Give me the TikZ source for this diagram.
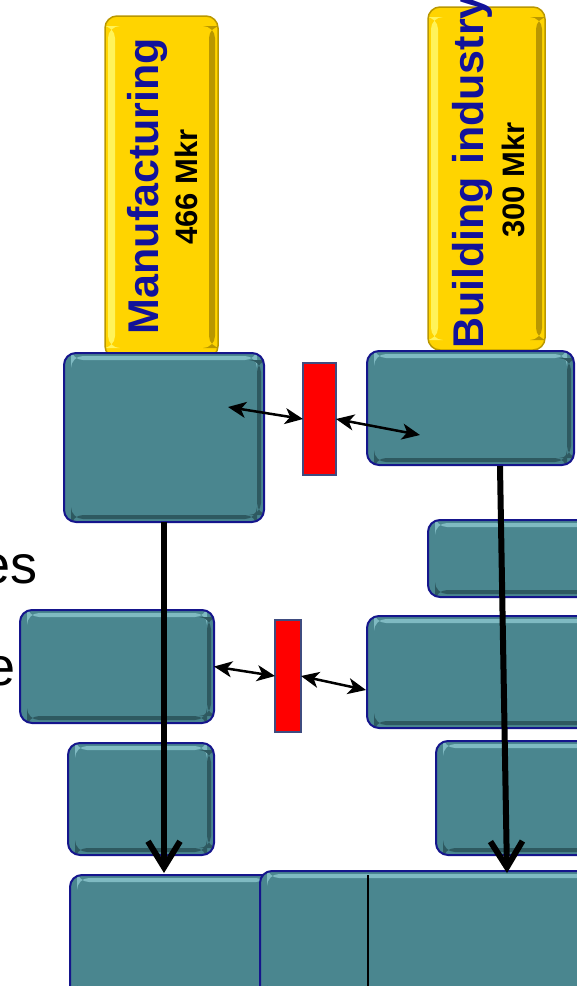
\documentclass[tikz,border=0pt]{standalone}
\usepackage{fontspec}
\setmainfont{Liberation Sans}
\usetikzlibrary{arrows.meta}

\definecolor{boxteal}{HTML}{4A868F}
\definecolor{boxtealhi}{HTML}{7FBAC2}
\definecolor{boxteallo}{HTML}{2E5960}
\definecolor{boxedge}{HTML}{15158C}
\definecolor{gold}{HTML}{FFD400}
\definecolor{goldhi}{HTML}{FFF35A}
\definecolor{goldlo}{HTML}{B99700}
\definecolor{labelblue}{HTML}{12129A}
\definecolor{slate}{HTML}{3F4C80}

\begin{document}
\begin{tikzpicture}[x=1pt,y=-1pt,
    tealbox/.style={draw=boxedge, line width=2pt, fill=boxteal, rounded corners=12pt,
        inner sep=0pt, outer sep=0pt,
        path picture={
            \fill[boxtealhi] ([shift={(7pt,-3pt)}]path picture bounding box.north west)
                rectangle ([shift={(-7pt,-7pt)}]path picture bounding box.north east);
            \fill[boxteallo] ([shift={(7pt,3pt)}]path picture bounding box.south west)
                rectangle ([shift={(-7pt,7pt)}]path picture bounding box.south east);
            \fill[boxteallo] ([shift={(-3pt,-7pt)}]path picture bounding box.north east)
                rectangle ([shift={(-7pt,7pt)}]path picture bounding box.south east);
        }},
    goldbox/.style={draw=goldlo, line width=1.5pt, fill=gold, rounded corners=12pt,
        inner sep=0pt, outer sep=0pt,
        path picture={
            \fill[goldhi] ([shift={(3pt,-10pt)}]path picture bounding box.north west)
                rectangle ([shift={(10pt,10pt)}]path picture bounding box.south west);
            \fill[goldlo] ([shift={(-3pt,-10pt)}]path picture bounding box.north east)
                rectangle ([shift={(-9pt,10pt)}]path picture bounding box.south east);
        }},
    redbox/.style={draw=slate, line width=2.5pt, fill=red, inner sep=0pt, outer sep=0pt},
    sectorname/.style={rotate=90, inner sep=0pt, text=labelblue,
        font=\bfseries\fontsize{43}{43}\selectfont},
    sectorvalue/.style={rotate=90, inner sep=0pt,
        font=\bfseries\fontsize{31}{31}\selectfont},
    sidetext/.style={inner sep=0pt, anchor=base east, font=\fontsize{54}{54}\selectfont},
    link/.style={{Stealth[length=18pt,width=16pt,inset=5pt]}-{Stealth[length=18pt,width=16pt,inset=5pt]},
        line width=2.5pt},
    flow/.style={-{Straight Barb[length=26pt,width=32pt,line width=6pt]}, line width=6pt}]

    \useasboundingbox (0,0) rectangle (577,986);
    \clip (0,0) rectangle (577,986);

    % sector headers
    \node[goldbox, minimum width=113pt, minimum height=342pt] (mfg) at (161.5,187) {};
    \node[goldbox, minimum width=117pt, minimum height=343pt] (bld) at (486.5,178.5) {};
    \node[sectorname] (mfgname) at (147,186) {Manufacturing};
    \node[sectorvalue] (mfgvalue) at (186.5,187) {466 Mkr};
    \node[sectorname] (bldname) at (472,172) {Building industry};
    \node[sectorvalue] (bldvalue) at (513.5,180) {300 Mkr};

    % cut-off side labels
    \node[sidetext] (sideA) at (38,583) {es};
    \node[sidetext] (sideB) at (16,685) {e};

    % boxes
    \node[tealbox, minimum width=200pt, minimum height=169pt] (mfgtop) at (164,437.5) {};
    \node[tealbox, minimum width=207pt, minimum height=114pt] (bldtop) at (470.5,408) {};
    \node[tealbox, minimum width=172pt, minimum height=77pt] (bldsub) at (514,558.5) {};
    \node[tealbox, minimum width=194pt, minimum height=113pt] (midleft) at (117,666.5) {};
    \node[tealbox, minimum width=233pt, minimum height=112pt] (midright) at (483.5,672) {};
    \node[tealbox, minimum width=146pt, minimum height=112pt] (lowleft) at (141,799) {};
    \node[tealbox, minimum width=164pt, minimum height=114pt] (lowright) at (518,798) {};
    \node[tealbox, minimum width=205pt, minimum height=125pt] (baseleft) at (172.5,937.5) {};
    \node[tealbox, minimum width=340pt, minimum height=129pt] (baseright) at (430,935.5) {};
    \draw[line width=1.5pt] (368,875) -- (368,1000);

    \node[redbox, minimum width=33pt, minimum height=112pt] (gateA) at (319.5,419) {};
    \node[redbox, minimum width=26pt, minimum height=112pt] (gateB) at (288,676) {};

    % free ends
    \coordinate (mfgin) at (228,407);
    \coordinate (bldin) at (420,435);
    \coordinate (midin) at (366,690);
    \coordinate (mfgend) at (164,873);
    \coordinate (bldstart) at (500,466);
    \coordinate (bldend) at (507,873);

    \draw[link] (mfgin) -- (gateA.west);
    \draw[link] (gateA.east) -- (bldin);
    \draw[link] (midleft.east) -- (gateB.west);
    \draw[link] (gateB.east) -- (midin);

    \draw[flow] (mfgtop.south) -- (mfgend);
    \draw[flow] (bldstart) -- (bldend);
\end{tikzpicture}
\end{document}
